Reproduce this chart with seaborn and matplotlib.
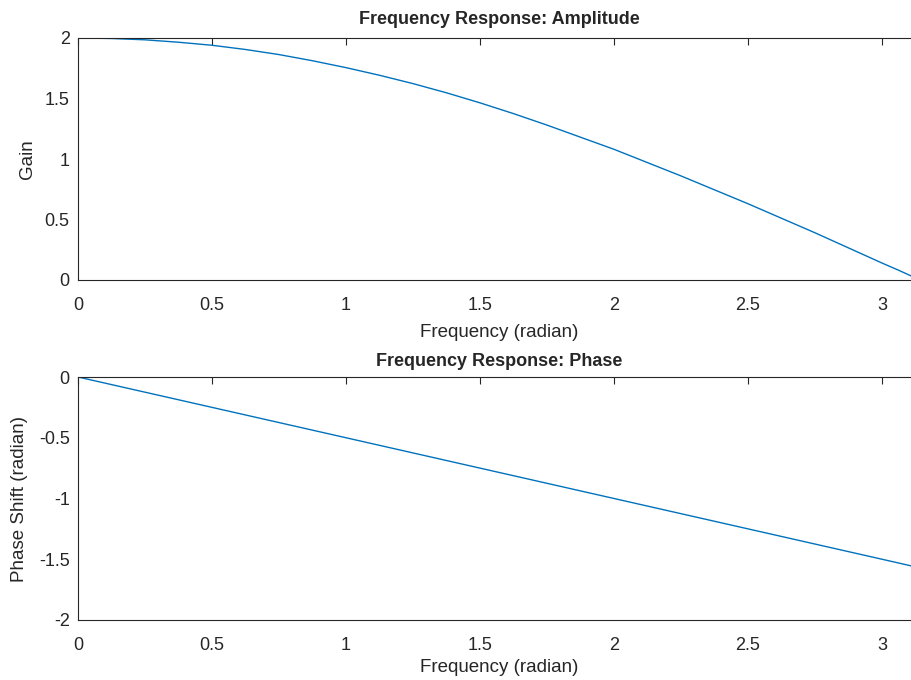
import numpy as np
import seaborn as sns
from matplotlib import pyplot as plt

# values
freq_amp = [0.0, 0.125, 0.25, 0.375, 0.5, 0.625, 0.75, 0.875, 1.0, 1.125, 1.25, 1.375,
            1.5, 1.625, 1.75, 1.875, 2.0, 2.125, 2.25, 2.375, 2.5, 2.625, 2.75, 2.875,
            3.0, 3.0625, 3.1416]
gain = [2.0, 1.996, 1.985, 1.965, 1.94, 1.905, 1.863, 1.812, 1.755, 1.692, 1.623, 1.547,
        1.464, 1.375, 1.28, 1.18, 1.08, 0.97, 0.86, 0.745, 0.63, 0.51, 0.39, 0.265,
        0.14, 0.08, 0.0]

freq_phase = [0.0, 0.5, 1.0, 1.5, 2.0, 2.5, 3.0, 3.1416]
phase = [0.0, -0.25, -0.5, -0.75, -1.0, -1.25, -1.5, -1.571]

x_ticks = [0, 0.5, 1, 1.5, 2, 2.5, 3]
x_ticklabels = ["0", "0.5", "1", "1.5", "2", "2.5", "3"]
gain_ticks = [0, 0.5, 1, 1.5, 2]
gain_ticklabels = ["0", "0.5", "1", "1.5", "2"]
phase_ticks = [-2, -1.5, -1, -0.5, 0]
phase_ticklabels = ["-2", "-1.5", "-1", "-0.5", "0"]

sns.set_style("white")
plt.rcParams["font.family"] = ["Liberation Sans", "DejaVu Sans"]
plt.rcParams["font.size"] = 13

line_color = "#0072BD"
edge = "#262626"

fig = plt.figure(figsize=(9.12, 6.8), dpi=100)
W, H = 912, 680
left, right = 78, 920
ax1 = fig.add_axes([left / W, 1 - 280 / H, (right - left) / W, (280 - 38) / H])
ax2 = fig.add_axes([left / W, 1 - 620 / H, (right - left) / W, (620 - 377) / H])

sns.lineplot(x=freq_amp, y=gain, ax=ax1, color=line_color, linewidth=1.0)
sns.lineplot(x=freq_phase, y=phase, ax=ax2, color=line_color, linewidth=1.0)

for ax, yt, ytl, ylim, xl_y in [(ax1, gain_ticks, gain_ticklabels, (0, 2), -0.183),
                                (ax2, phase_ticks, phase_ticklabels, (-2, 0), -0.16)]:
    ax.set_xlim(0, np.pi)
    ax.set_ylim(*ylim)
    ax.set_xticks(x_ticks)
    ax.set_xticklabels(x_ticklabels)
    ax.set_yticks(yt)
    ax.set_yticklabels(ytl)
    ax.tick_params(direction="in", length=5, width=0.8, colors=edge,
                   top=True, right=True, labelsize=13)
    ax.tick_params(axis="x", pad=12)
    ax.tick_params(axis="y", pad=6)
    for s in ax.spines.values():
        s.set_color(edge)
        s.set_linewidth(0.8)
        s.set_visible(True)
    ax.set_xlabel("Frequency (radian)", fontsize=13.5, color=edge)
    ax.xaxis.set_label_coords(0.5, xl_y)

ax1.set_ylabel("Gain", fontsize=13.5, color=edge)
ax1.yaxis.set_label_coords(-0.050, 0.5)
ax2.set_ylabel("Phase Shift (radian)", fontsize=13.5, color=edge)
ax2.yaxis.set_label_coords(-0.0595, 0.5)
ax1.set_title("Frequency Response: Amplitude", fontsize=13, fontweight="bold", pad=10)
ax2.set_title("Frequency Response: Phase", fontsize=13, fontweight="bold", pad=8)

fig.savefig("out.png", dpi=100)
